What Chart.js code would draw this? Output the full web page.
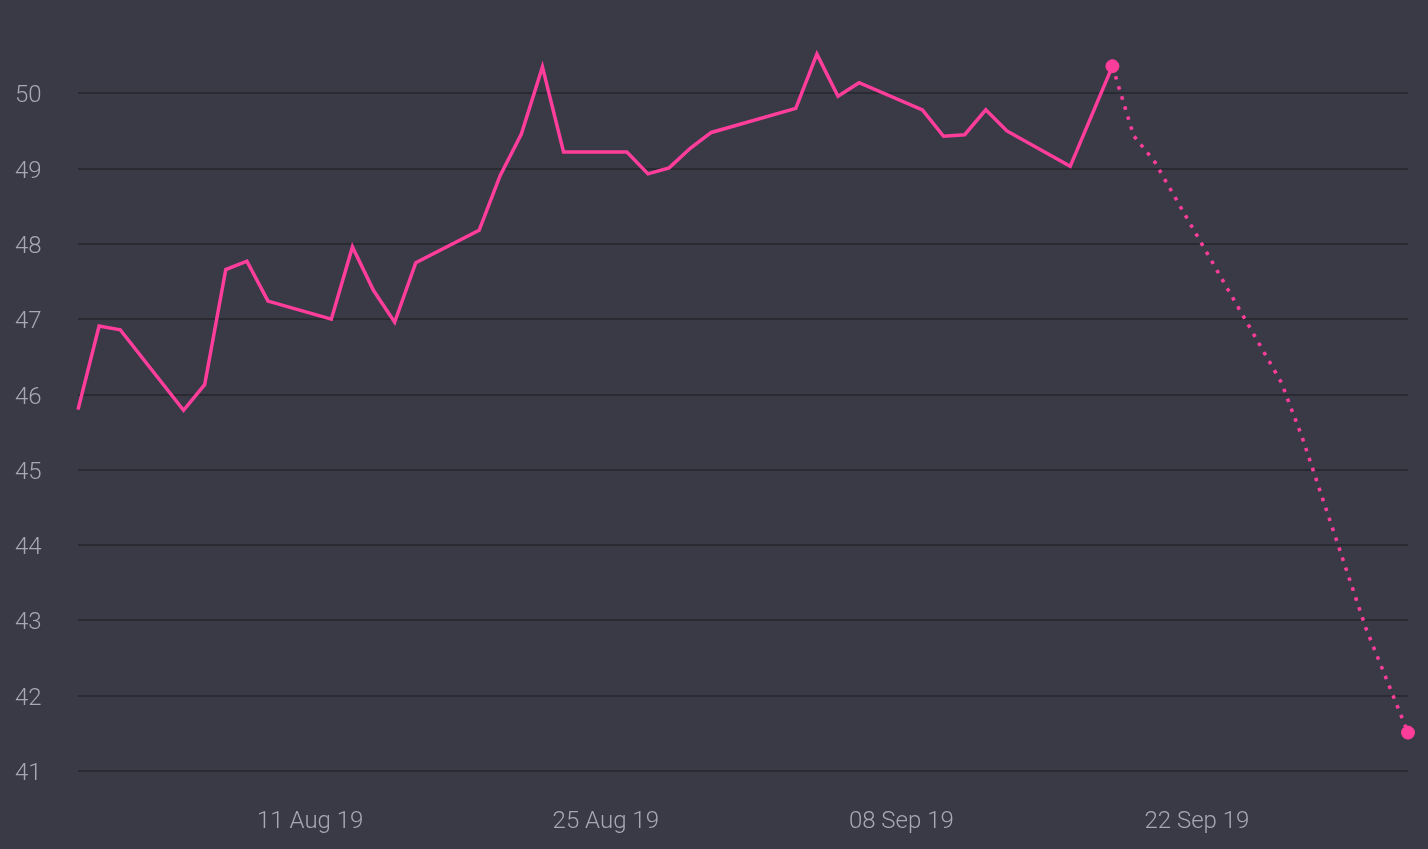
<!DOCTYPE html>
<html>
<head>
<meta charset="utf-8">
<title>Price trend and forecast</title>
<script src="https://cdn.jsdelivr.net/npm/chart.js@4/dist/chart.umd.min.js"></script>
<style>
  html, body { margin:0; padding:0; background:#3a3a47; }
  #wrap { width:1428px; height:849px; position:relative; }
</style>
</head>
<body>
<div id="wrap"><canvas id="trendChart"></canvas></div>
<script>
// day 0 = 31 Jul 2019
const actualDays   = [0, 1, 2, 5, 6, 7, 8, 9, 12, 13, 14, 15, 16, 19, 20, 21, 22, 23, 26, 27, 28, 29, 30, 34, 35, 36, 37, 40, 41, 42, 43, 44, 47, 49];
const actualValues = [45.8, 46.91, 46.86, 45.79, 46.13, 47.66, 47.77, 47.24, 47.0, 47.96, 47.38, 46.96, 47.75, 48.18, 48.91, 49.46, 50.35, 49.22, 49.22, 48.93, 49.01, 49.27, 49.48, 49.80, 50.52, 49.96, 50.14, 49.78, 49.43, 49.45, 49.78, 49.50, 49.03, 50.36];

const forecastDays   = [49, 50, 51, 57, 58, 61, 63];
const forecastValues = [50.36, 49.44, 49.09, 46.16, 45.42, 42.90, 41.51];

const xTickDays   = [11, 25, 39, 53];
const xTickLabels = ['11 Aug 19', '25 Aug 19', '08 Sep 19', '22 Sep 19'];
const yTicks      = [41, 42, 43, 44, 45, 46, 47, 48, 49, 50];

const PINK = '#ff3d9b';
const TEXT = '#a7a7b6';
const FONT = "Roboto, 'DejaVu Sans Condensed', sans-serif";

function toPoints(days, vals) {
  return days.map((d, i) => ({ x: d, y: vals[i] }));
}

const lastOnly = n => ctx => ctx.dataIndex === n - 1 ? 6.5 : 0;

new Chart(document.getElementById('trendChart'), {
  type: 'line',
  data: {
    datasets: [
      {
        label: 'Actual',
        data: toPoints(actualDays, actualValues),
        borderColor: PINK,
        backgroundColor: PINK,
        borderWidth: 3.5,
        tension: 0,
        clip: false,
        pointRadius: lastOnly(actualDays.length),
        pointBorderWidth: 1
      },
      {
        label: 'Forecast',
        data: toPoints(forecastDays, forecastValues),
        borderColor: PINK,
        backgroundColor: PINK,
        borderWidth: 3.5,
        borderDash: [3.5, 7],
        borderCapStyle: 'butt',
        tension: 0,
        clip: false,
        pointRadius: lastOnly(forecastDays.length),
        pointBorderWidth: 1
      }
    ]
  },
  options: {
    responsive: true,
    maintainAspectRatio: false,
    animation: false,
    layout: { padding: { left: 15, right: 20, top: 18, bottom: 0 } },
    plugins: {
      legend: { display: false },
      tooltip: { enabled: false }
    },
    scales: {
      x: {
        type: 'linear',
        min: 0,
        max: 63,
        grid: { display: false, drawTicks: false },
        border: { display: false },
        afterBuildTicks: s => { s.ticks = xTickDays.map(v => ({ value: v })); },
        afterFit: s => { s.height = 78; },
        ticks: {
          padding: 37,
          color: TEXT,
          font: { family: FONT, size: 24, weight: '300' },
          maxRotation: 0,
          autoSkip: false,
          callback: v => xTickLabels[xTickDays.indexOf(v)]
        }
      },
      y: {
        min: 41,
        max: 51,
        grid: { color: '#2a2a33', lineWidth: 2, drawTicks: false },
        border: { display: false },
        afterBuildTicks: s => { s.ticks = yTicks.map(v => ({ value: v })); },
        afterFit: s => { s.width = 63; },
        ticks: {
          crossAlign: 'far',
          labelOffset: 3,
          color: TEXT,
          font: { family: FONT, size: 24, weight: '300' },
          callback: v => String(v)
        }
      }
    }
  }
});
</script>
</body>
</html>
